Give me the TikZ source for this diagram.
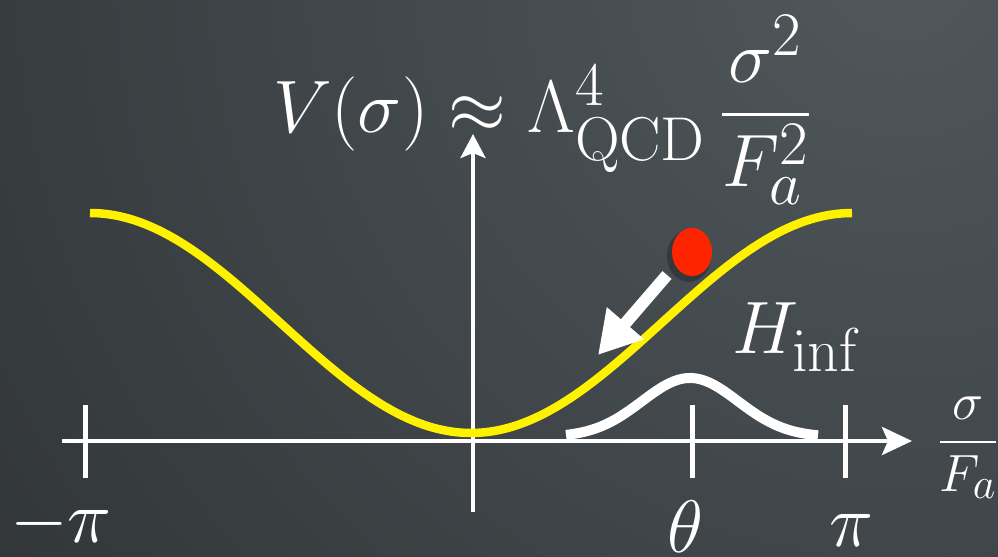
\documentclass[tikz,border=0pt]{standalone}
\usepackage{amsmath}
\usetikzlibrary{arrows.meta}

\definecolor{boardlight}{RGB}{80,88,92}
\definecolor{boarddark}{RGB}{22,23,24}
\definecolor{potyellow}{RGB}{255,242,0}
\definecolor{ballred}{RGB}{255,36,0}

\begin{document}
\begin{tikzpicture}[x=0.02cm, y=-0.02cm,
  axis/.style={draw=white, line width=0.09cm},
  tick/.style={draw=white, line width=0.1cm},
  potential/.style={draw=potyellow, line width=0.17cm},
  bump/.style={draw=white, line width=0.2cm},
  every node/.style={text=white, inner sep=0pt, font=\Huge},
  bigmath/.style={scale=1.7},
  smallmath/.style={scale=1.2},
]
\useasboundingbox (0,0) rectangle (998,557);
\clip (0,0) rectangle (998,557);
\shade[inner color=boardlight, outer color=boarddark] (900,-40) circle (2100);

\coordinate (xstart) at (62,441);
\coordinate (xend) at (912,441);
\coordinate (ystart) at (473,512);
\coordinate (yend) at (473,134);
\draw[axis, -{Stealth[length=0.6cm, width=0.56cm, inset=0.12cm]}] (xstart) -- (xend);
\draw[axis, line width=0.08cm, -{Stealth[length=0.48cm, width=0.5cm, inset=0.1cm]}] (ystart) -- (yend);

\foreach \tx/\tname in {85/mpi, 692/theta, 845/pi} {
  \coordinate (\tname top) at (\tx,405);
  \coordinate (\tname bot) at (\tx,478);
  \draw[tick] (\tname top) -- (\tname bot);
}

\draw[bump] plot[domain=566:818, samples=90] (\x,{437-59*exp(-((\x-690)/48)^2/2)});
\draw[potential] plot[domain=-180:180, samples=150] ({471+2.1167*\x},{323+110*cos(\x)});

\fill[black, opacity=0.25] (689,256) ellipse [x radius=22, y radius=26];
\fill[ballred] (692,252) ellipse [x radius=20, y radius=24];
\coordinate (pushstart) at (667,275);
\coordinate (pushend) at (598,355);
\draw[white, line width=0.24cm, -{Triangle[length=0.84cm, width=0.92cm]}] (pushstart) -- (pushend);

\node[bigmath] (potlabel) at (543,110) {$V(\sigma)\approx\Lambda^4_{\mathrm{QCD}}\,\dfrac{\sigma^2}{F_a^2}$};
\node[bigmath] (hinflabel) at (797,337) {$H_{\mathrm{inf}}$};
\node[bigmath] (mpilabel) at (61,524) {$-\pi$};
\node[bigmath] (thetalabel) at (685,527) {$\theta$};
\node[bigmath] (pilabel) at (851,531) {$\pi$};
\node[smallmath] (xlabel) at (968,448) {$\dfrac{\sigma}{F_a}$};
\end{tikzpicture}
\end{document}
